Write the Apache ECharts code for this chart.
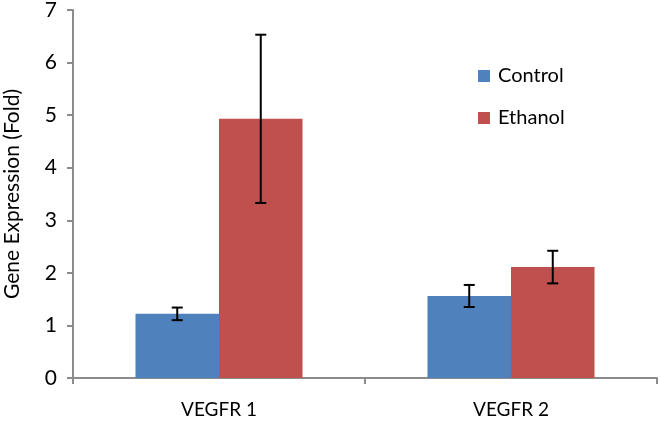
<!DOCTYPE html>
<html>
<head>
<meta charset="utf-8">
<script src="https://cdn.jsdelivr.net/npm/echarts@6/dist/echarts.min.js"></script>
<style>html,body{margin:0;padding:0;background:#fff;}#c{width:660px;height:422px;}</style>
</head>
<body>
<div id="c"></div>
<script>
var categories = ['VEGFR 1', 'VEGFR 2'];
var controlValues = [1.22, 1.56];
var ethanolValues = [4.93, 2.11];
var controlErr = [0.12, 0.21];
var ethanolErr = [1.6, 0.31];
var yTicks = [0, 1, 2, 3, 4, 5, 6, 7];

var FONT = 'Lato';
var BAR_FRAC = 0.286;

function errorSeries(values, errs, side, name) {
  return {
    type: 'custom',
    name: name + ' err',
    z: 10,
    silent: true,
    data: values.map(function (v, i) { return [i, v - errs[i], v + errs[i]]; }),
    renderItem: function (params, api) {
      var band = api.size([1, 0])[0];
      var off = side * band * BAR_FRAC / 2;
      var lo = api.coord([api.value(0), api.value(1)]);
      var hi = api.coord([api.value(0), api.value(2)]);
      var x = lo[0] + off;
      var cap = 5.5;
      var st = { stroke: '#000', lineWidth: 2 };
      return {
        type: 'group',
        children: [
          { type: 'line', shape: { x1: x, y1: hi[1], x2: x, y2: lo[1] }, style: st },
          { type: 'line', shape: { x1: x - cap, y1: hi[1], x2: x + cap, y2: hi[1] }, style: st },
          { type: 'line', shape: { x1: x - cap, y1: lo[1], x2: x + cap, y2: lo[1] }, style: st }
        ]
      };
    }
  };
}

var chart = echarts.init(document.getElementById('c'), null, { renderer: 'canvas' });
chart.setOption({
  animation: false,
  backgroundColor: '#fff',
  textStyle: { fontFamily: FONT },
  grid: { left: 73, right: 3, top: 10, bottom: 44, containLabel: false, outerBoundsMode: 'none' },
  legend: {
    orient: 'vertical',
    left: 473,
    top: 61,
    itemWidth: 12,
    itemHeight: 12,
    itemGap: 22,
    icon: 'rect',
    data: ['Control', 'Ethanol'],
    textStyle: { fontFamily: FONT, fontSize: 20, color: '#000', padding: [0, 0, 0, 3] }
  },
  xAxis: {
    type: 'category',
    data: categories,
    axisLine: { lineStyle: { color: '#8c8c8c', width: 2 } },
    axisTick: { show: true, length: 6, lineStyle: { color: '#8c8c8c', width: 2 } },
    axisLabel: { color: '#000', fontSize: 19, fontFamily: FONT, margin: 22 }
  },
  yAxis: {
    type: 'value',
    min: yTicks[0],
    max: yTicks[yTicks.length - 1],
    interval: 1,
    name: 'Gene Expression (Fold)',
    nameLocation: 'middle',
    nameGap: 50,
    nameTextStyle: { color: '#000', fontSize: 21, fontFamily: FONT },
    splitLine: { show: false },
    axisLine: { show: true, lineStyle: { color: '#8c8c8c', width: 2 } },
    axisTick: { show: true, length: 6, lineStyle: { color: '#8c8c8c', width: 2 } },
    axisLabel: { color: '#000', fontSize: 21, fontFamily: FONT, margin: 16 }
  },
  series: [
    { name: 'Control', type: 'bar', data: controlValues, barWidth: (BAR_FRAC * 100) + '%', barGap: '0%', itemStyle: { color: '#4F81BD' } },
    { name: 'Ethanol', type: 'bar', data: ethanolValues, barWidth: (BAR_FRAC * 100) + '%', barGap: '0%', itemStyle: { color: '#C0504D' } },
    errorSeries(controlValues, controlErr, -1, 'Control'),
    errorSeries(ethanolValues, ethanolErr, 1, 'Ethanol')
  ]
});
</script>
</body>
</html>
